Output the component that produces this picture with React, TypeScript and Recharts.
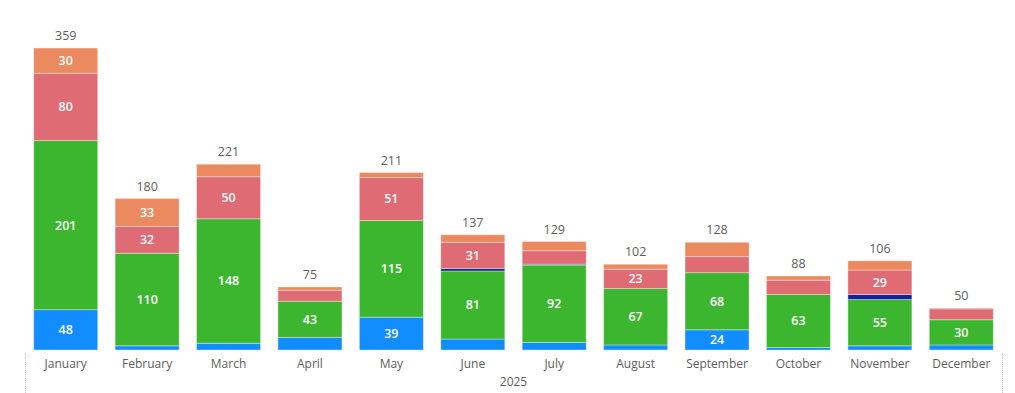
import { BarChart, Bar, XAxis, YAxis, LabelList } from "recharts";

const months = [
  "January", "February", "March", "April", "May", "June",
  "July", "August", "September", "October", "November", "December",
];
const blueValues = [48, 5, 8, 15, 39, 13, 9, 6, 24, 3, 5, 6];
const greenValues = [201, 110, 148, 43, 115, 81, 92, 67, 68, 63, 55, 30];
const navyValues = [0, 0, 0, 0, 0, 3, 1, 0, 0, 0, 6, 0];
const redValues = [80, 32, 50, 13, 51, 31, 16, 23, 19, 17, 29, 13];
const orangeValues = [30, 33, 15, 4, 6, 9, 11, 6, 17, 5, 11, 1];
const yearLabel = "2025";

const data = months.map((month, i) => ({
  month,
  blue: blueValues[i],
  green: greenValues[i],
  navy: navyValues[i],
  red: redValues[i],
  orange: orangeValues[i],
  total: blueValues[i] + greenValues[i] + navyValues[i] + redValues[i] + orangeValues[i],
}));

const FONT = "'Segoe UI', 'Open Sans', 'Noto Sans', sans-serif";

const segmentLabel = {
  position: "center" as const,
  fill: "#ffffff",
  fontSize: 12.5,
  fontWeight: 600,
  fontFamily: FONT,
  formatter: (v: any) => (Number(v) >= 20 ? v : ""),
};

const series = [
  { key: "blue", color: "#118DFF", label: true },
  { key: "green", color: "#3DB62F", label: true },
  { key: "navy", color: "#12239E", label: false },
  { key: "red", color: "#DF6B74", label: true },
  { key: "orange", color: "#EB8A5F", label: true },
];

const dotted = (left: number) => ({
  position: "absolute" as const,
  left,
  top: 353,
  height: 40,
  borderLeft: "1px dotted #c8c8c8",
});

export default function App() {
  return (
    <div style={{ position: "absolute", left: 0, top: 0, width: 1015, height: 393, background: "#fff" }}>
      <BarChart
        width={1015}
        height={393}
        data={data}
        margin={{ top: 13.6, right: 13, left: 25, bottom: 0 }}
        barCategoryGap="10.7%"
      >
        <XAxis
          dataKey="month"
          height={43}
          axisLine={false}
          tickLine={false}
          tickMargin={3}
          interval={0}
          tick={{ fill: "#605E5C", fontSize: 12, fontFamily: FONT }}
          label={{
            value: yearLabel,
            position: "insideBottom",
            offset: 7,
            fill: "#605E5C",
            fontSize: 12,
            fontFamily: FONT,
          }}
        />
        <YAxis hide domain={[0, 400]} />
        {series.map((s) => (
          <Bar
            key={s.key}
            dataKey={s.key}
            stackId="a"
            fill={s.color}
            stroke="rgba(255,255,255,0.35)"
            strokeWidth={1}
            isAnimationActive={false}
          >
            {s.label && <LabelList dataKey={s.key} {...segmentLabel} />}
            {s.key === "orange" && (
              <LabelList
                dataKey="total"
                position="top"
                offset={8}
                fill="#605E5C"
                fontSize={12.5}
                fontFamily={FONT}
              />
            )}
          </Bar>
        ))}
      </BarChart>
      <div style={dotted(25)} />
      <div style={dotted(1002)} />
    </div>
  );
}
